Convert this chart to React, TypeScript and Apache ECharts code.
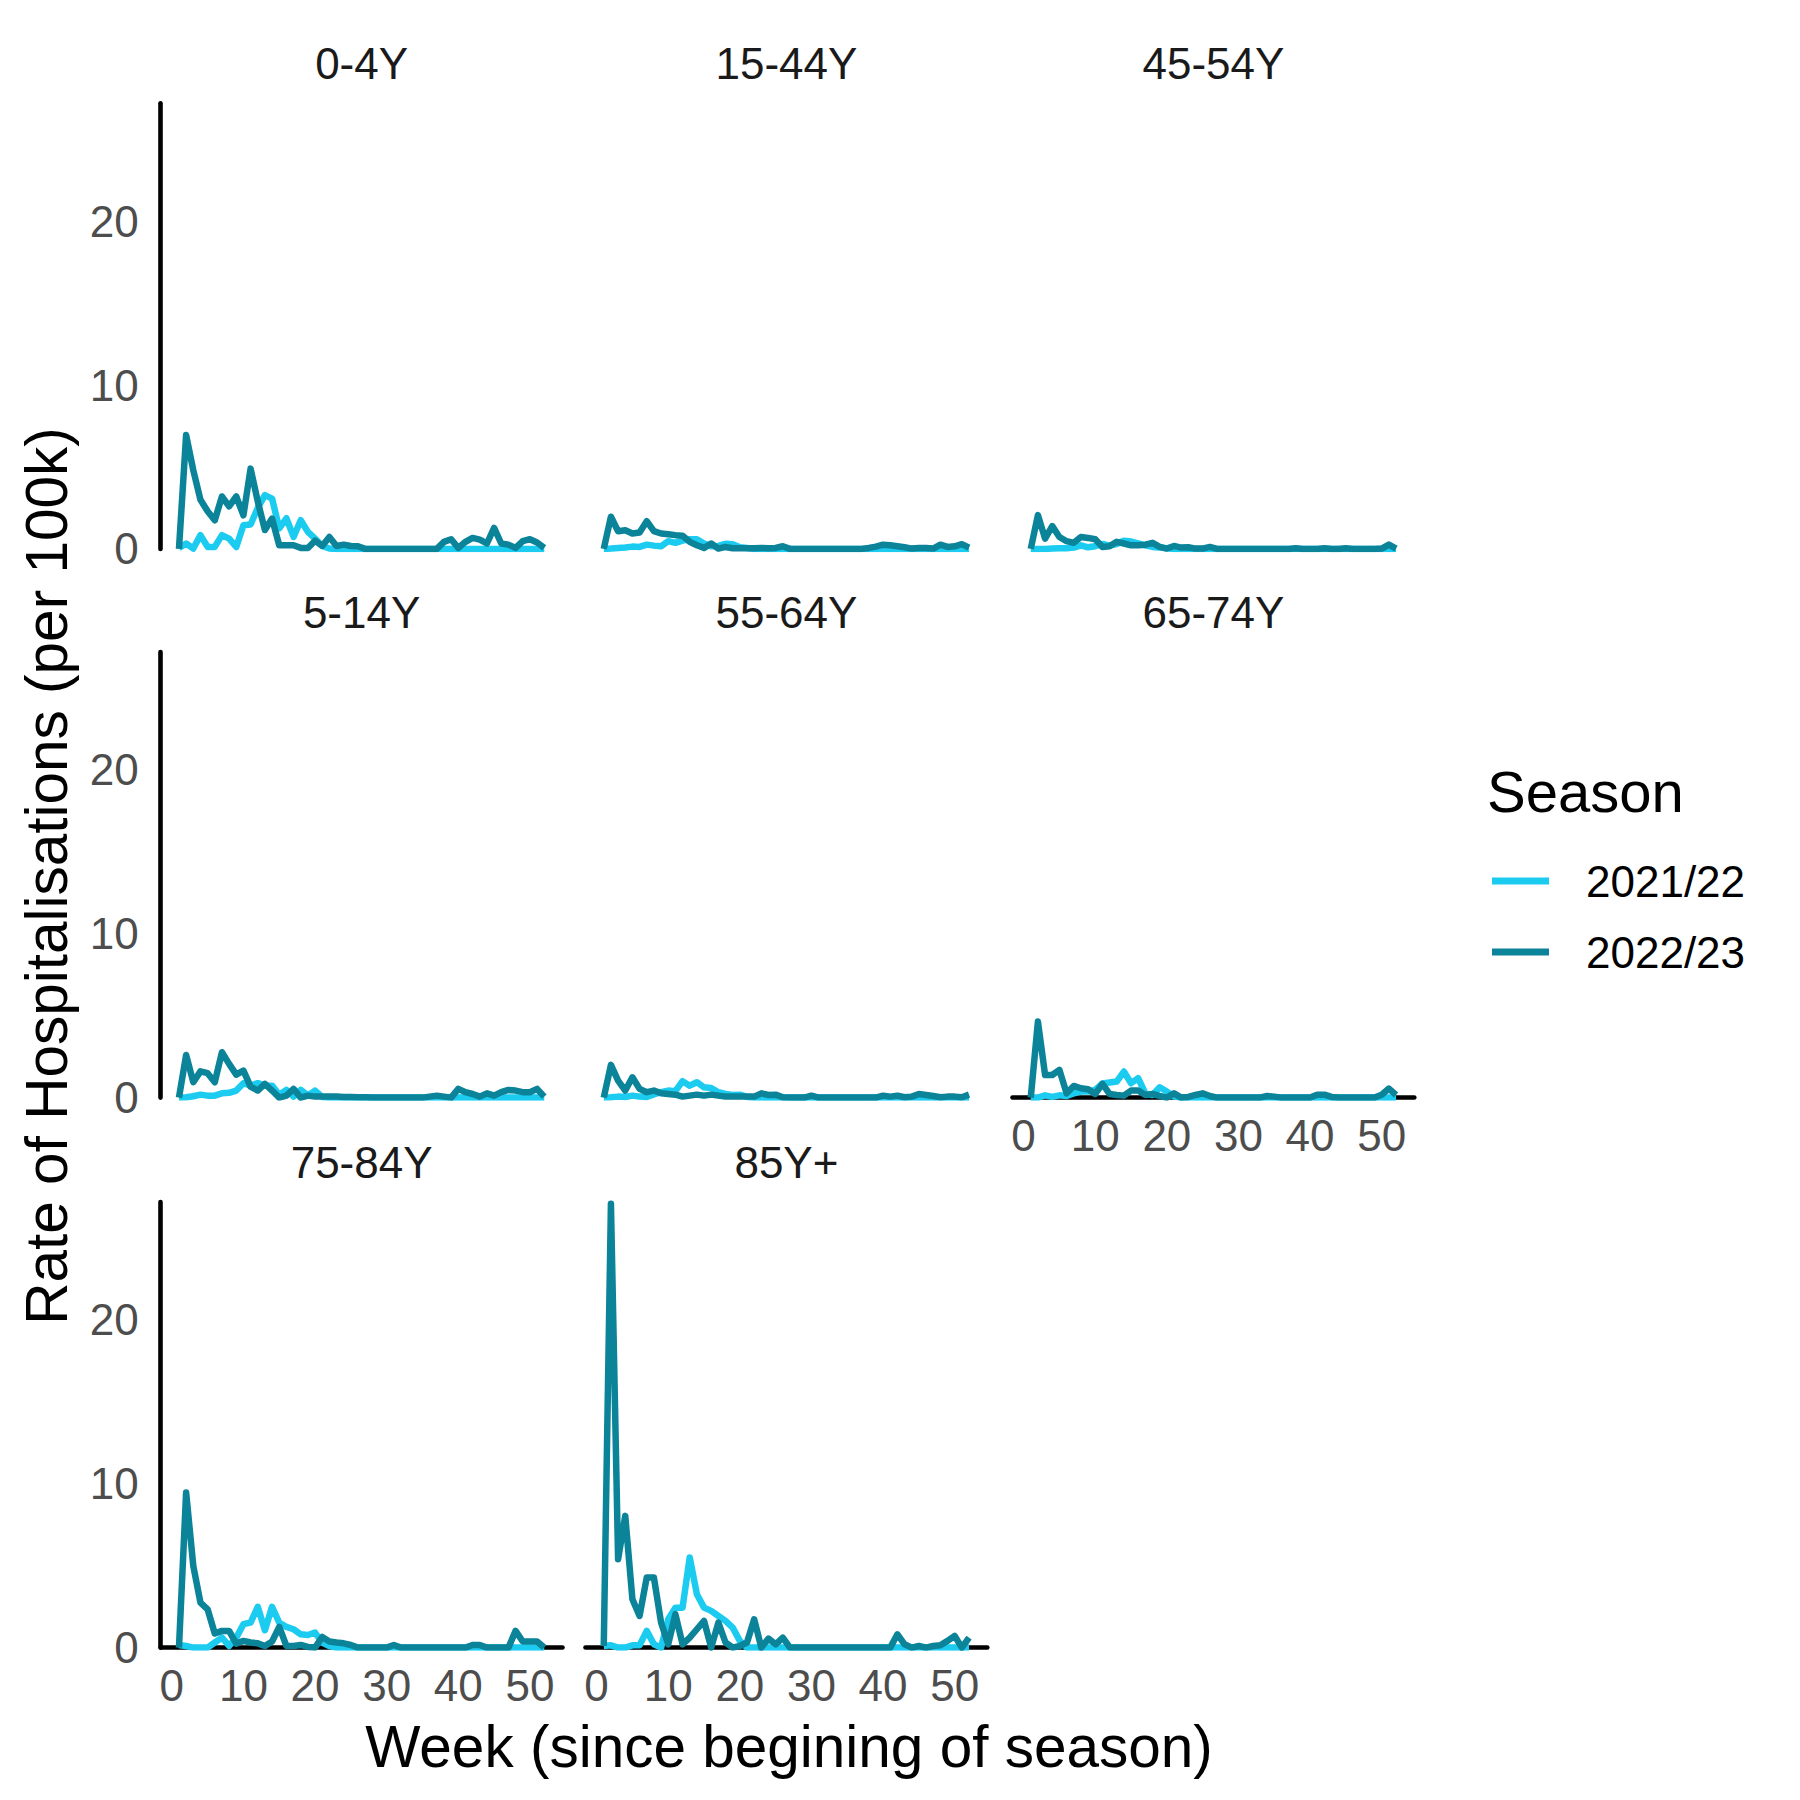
import React, { useEffect, useRef } from "react";
import * as echarts from "echarts";

const panels = ["0-4Y", "15-44Y", "45-54Y", "5-14Y", "55-64Y", "65-74Y", "75-84Y", "85Y+"];
const seasons = ["2021/22", "2022/23"];
const seasonColors = ["#1BCCF0", "#0B8399"];
const xTicks = [0, 10, 20, 30, 40, 50];
const yTicks = [0, 10, 20];
const weeks = Array.from({ length: 52 }, (_, i) => i + 1);

const z = (n: number) => new Array(n).fill(0);

// Season 2021/22
const light_0_4 = [0.05, 0.33, 0.02, 0.84, 0.12, 0.12, 0.84, 0.63, 0.12, 1.45, 1.49, 2.5, 3.28, 3.07, 1.25, 1.87, 0.73, 1.75, 1.04, 0.63, 0.18, 0.02, ...z(30)];
const light_15_44 = [0, 0.02, 0.05, 0.08, 0.14, 0.12, 0.26, 0.2, 0.16, 0.47, 0.37, 0.51, 0.59, 0.59, 0.33, 0.16, 0.18, 0.31, 0.29, 0.1, 0.05, ...z(31)];
const light_45_54 = [0, 0, 0, 0.02, 0.04, 0.04, 0.08, 0.22, 0.1, 0.16, 0.3, 0.2, 0.3, 0.5, 0.45, 0.33, 0.22, 0.12, 0.08, 0.04, ...z(32)];
const light_5_14 = [0, 0.02, 0.08, 0.18, 0.12, 0.12, 0.26, 0.29, 0.43, 0.88, 0.73, 0.88, 0.73, 0.73, 0.18, 0.47, 0.06, 0.47, 0.12, 0.43, 0.04, ...z(31)];
const light_55_64 = [0, 0.02, 0.06, 0.04, 0.12, 0.06, 0.04, 0.2, 0.33, 0.43, 0.39, 1.0, 0.73, 0.94, 0.63, 0.59, 0.33, 0.22, 0.16, 0.18, 0.04, ...z(31)];
const light_65_74 = [0, 0, 0.14, 0.04, 0.14, 0.1, 0.26, 0.37, 0.37, 0.47, 0.86, 0.92, 0.98, 1.59, 0.88, 1.18, 0.26, 0.16, 0.63, 0.37, 0.06, ...z(31)];
const light_75_84 = [0.16, 0.1, 0, 0, 0, 0.31, 0.61, 0.1, 0.61, 1.43, 1.53, 2.49, 1.06, 2.49, 1.53, 1.26, 1.12, 0.81, 0.77, 0.92, 0.31, 0.1, ...z(30)];
const light_85 = [0.1, 0.14, 0, 0, 0.14, 0.14, 1.02, 0.2, 0, 1.73, 2.44, 2.44, 5.5, 3.26, 2.44, 2.24, 1.93, 1.63, 1.22, 0.41, 0, ...z(31)];

// Season 2022/23
const dark_0_4 = [0, 6.95, 4.8, 3.0, 2.3, 1.75, 3.2, 2.6, 3.2, 2.05, 4.9, 2.9, 1.15, 1.85, 0.22, 0.22, 0.22, 0.06, 0.06, 0.5, 0.18, 0.73, 0.18, 0.26, 0.18, 0.16, ...z(11), 0.43, 0.59, 0.06, 0.43, 0.67, 0.57, 0.33, 1.28, 0.33, 0.26, 0.06, 0.47, 0.59, 0.39, 0.06];
const dark_15_44 = [0, 1.96, 1.08, 1.14, 0.94, 1.0, 1.69, 1.08, 0.94, 0.9, 0.84, 0.8, 0.43, 0.22, 0.06, 0.33, 0.02, 0.12, 0.04, 0.04, 0.04, 0.04, 0.06, 0.04, 0.06, 0.16, ...z(11), 0.06, 0.14, 0.26, 0.22, 0.16, 0.1, 0.02, 0.06, 0.06, 0.02, 0.26, 0.12, 0.16, 0.29, 0.08];
const dark_45_54 = [0, 2.06, 0.63, 1.39, 0.73, 0.47, 0.37, 0.73, 0.67, 0.59, 0.12, 0.16, 0.43, 0.33, 0.22, 0.22, 0.26, 0.37, 0.12, 0.02, 0.18, 0.08, 0.1, 0.02, 0.02, 0.12, 0, 0, 0, 0, 0, 0, 0, 0, 0, 0, 0, 0.04, 0, 0, 0, 0.04, 0, 0, 0.04, 0, 0, 0, 0, 0.02, 0.26, 0.02];
const dark_5_14 = [0, 2.6, 0.94, 1.6, 1.49, 0.94, 2.77, 2.06, 1.4, 1.65, 0.67, 0.43, 0.84, 0.43, 0, 0.12, 0.53, 0, 0.12, 0.06, 0.06, 0.06, 0.06, 0.04, 0.04, 0.02, 0.02, ...z(8), 0.06, 0.12, 0.06, 0, 0.53, 0.33, 0.22, 0.06, 0.26, 0.12, 0.33, 0.47, 0.43, 0.33, 0.33, 0.53, 0.06];
const dark_55_64 = [0, 2.0, 1.04, 0.43, 1.24, 0.53, 0.33, 0.43, 0.26, 0.22, 0.18, 0.06, 0.12, 0.18, 0.12, 0.18, 0.12, 0.06, 0.06, 0.06, 0.06, 0.06, 0.26, 0.16, 0.18, 0.02, 0, 0, 0, 0.12, ...z(9), 0.12, 0.06, 0.12, 0.02, 0.06, 0.22, 0.16, 0.1, 0.02, 0.06, 0.06, 0.02, 0.18];
const dark_65_74 = [0, 4.64, 1.38, 1.38, 1.69, 0.26, 0.71, 0.57, 0.51, 0.22, 0.84, 0.22, 0.16, 0.12, 0.43, 0.43, 0.16, 0.22, 0.1, 0, 0.26, 0, 0.04, 0.16, 0.26, 0.1, ...z(7), 0.1, 0.06, ...z(5), 0.18, 0.18, 0.04, ...z(6), 0.18, 0.55, 0.16];
const dark_75_84 = [0, 9.47, 4.99, 2.75, 2.34, 0.86, 1.02, 1.02, 0.24, 0.41, 0.31, 0.26, 0.1, 0.37, 1.26, 0.1, 0.1, 0.16, 0.04, 0, 0.65, 0.37, 0.31, 0.26, 0.16, ...z(5), 0.16, ...z(10), 0.16, 0.16, ...z(4), 1.02, 0.37, 0.37, 0.37, 0];
const dark_85 = [0.1, 27.1, 5.4, 8.04, 2.95, 1.93, 4.28, 4.28, 1.53, 0.2, 2.04, 0.2, 0.61, 1.12, 1.63, 0, 1.53, 0.31, 0, 0.1, 0.31, 1.73, 0, 0.55, 0.2, 0.61, ...z(15), 0.81, 0.2, 0, 0.1, 0, 0.1, 0.14, 0.41, 0.71, 0, 0.61];

const lightSeries = [light_0_4, light_15_44, light_45_54, light_5_14, light_55_64, light_65_74, light_75_84, light_85];
const darkSeries = [dark_0_4, dark_15_44, dark_45_54, dark_5_14, dark_55_64, dark_65_74, dark_75_84, dark_85];

const FONT = "'Liberation Sans', Arial, Helvetica, sans-serif";
const colLeft = [160.7, 585.5, 1012.5];
const rowTop = [103.3, 652, 1202];
const panelW = 401.8;
const panelH = 445.6;
const xMin = -1.55;
const xMax = 54.55;
const yMax = 27.2;
const bottomPanels = [5, 6, 7];
const leftPanels = [0, 3, 6];
const LINE_W = 6.5;
const AXIS_W = 4.6;

function buildOption() {
  const grids: any[] = [];
  const xAxes: any[] = [];
  const yAxes: any[] = [];
  const series: any[] = [];
  const graphics: any[] = [];

  panels.forEach((name, i) => {
    const row = Math.floor(i / 3);
    const col = i % 3;
    grids.push({
      left: colLeft[col],
      top: rowTop[row],
      width: panelW,
      height: panelH,
      containLabel: false,
      outerBoundsMode: "none",
    });
    const isBottom = bottomPanels.includes(i);
    const isLeft = leftPanels.includes(i);
    xAxes.push({
      type: "value",
      gridIndex: i,
      min: xMin,
      max: xMax,
      axisLine: { show: isBottom, onZero: false, lineStyle: { color: "#000", width: AXIS_W } },
      axisTick: { show: false },
      splitLine: { show: false },
      axisLabel: {
        show: isBottom,
        customValues: xTicks,
        fontSize: 44,
        color: "#4D4D4D",
        fontFamily: FONT,
        margin: 16,
      },
    });
    yAxes.push({
      type: "value",
      gridIndex: i,
      min: 0,
      max: yMax,
      axisLine: { show: isLeft, onZero: false, lineStyle: { color: "#000", width: AXIS_W } },
      axisTick: { show: false },
      splitLine: { show: false },
      axisLabel: {
        show: isLeft,
        customValues: yTicks,
        fontSize: 44,
        color: "#4D4D4D",
        fontFamily: FONT,
        margin: 22,
      },
    });
    [lightSeries[i], darkSeries[i]].forEach((vals, s) => {
      series.push({
        type: "line",
        name: seasons[s],
        xAxisIndex: i,
        yAxisIndex: i,
        data: weeks.map((w, k) => [w, vals[k]]),
        showSymbol: false,
        symbol: "none",
        color: seasonColors[s],
        lineStyle: { color: seasonColors[s], width: LINE_W, join: "round", cap: "butt" },
        z: 2 + s,
        silent: true,
      });
    });
    graphics.push({
      type: "text",
      x: colLeft[col] + panelW / 2,
      y: rowTop[row] - 40,
      style: {
        text: name,
        fontSize: 44,
        fontFamily: FONT,
        fill: "#1A1A1A",
        textAlign: "center",
        textVerticalAlign: "middle",
      },
    });
  });

  graphics.push({
    type: "text",
    x: 789,
    y: 1746,
    style: {
      text: "Week (since begining of season)",
      fontSize: 58.5,
      fontFamily: FONT,
      fill: "#000",
      textAlign: "center",
      textVerticalAlign: "middle",
    },
  });
  graphics.push({
    type: "text",
    x: 46,
    y: 876,
    rotation: Math.PI / 2,
    style: {
      text: "Rate of Hospitalisations (per 100k)",
      fontSize: 58.5,
      fontFamily: FONT,
      fill: "#000",
      textAlign: "center",
      textVerticalAlign: "middle",
    },
  });
  graphics.push({
    type: "text",
    x: 1487,
    y: 791,
    style: {
      text: "Season",
      fontSize: 58,
      fontFamily: FONT,
      fill: "#000",
      textAlign: "left",
      textVerticalAlign: "middle",
    },
  });

  return {
    animation: false,
    backgroundColor: "#fff",
    grid: grids,
    xAxis: xAxes,
    yAxis: yAxes,
    series,
    graphic: graphics,
    legend: {
      show: true,
      orient: "vertical",
      left: 1492,
      top: 856,
      padding: 0,
      itemWidth: 57,
      itemHeight: 7,
      itemGap: 21,
      icon: "rect",
      selectedMode: false,
      data: seasons,
      textStyle: {
        fontSize: 44,
        color: "#000",
        fontFamily: FONT,
        lineHeight: 50,
        padding: [0, 0, 0, 32],
      },
    },
  };
}

export default function App() {
  const ref = useRef<HTMLDivElement>(null);
  useEffect(() => {
    const chart = echarts.init(ref.current!, null, { renderer: "svg" });
    chart.setOption(buildOption() as any);
    return () => chart.dispose();
  }, []);
  return (
    <div
      ref={ref}
      style={{ position: "absolute", left: 0, top: 0, width: 1800, height: 1800, background: "#fff" }}
    />
  );
}
